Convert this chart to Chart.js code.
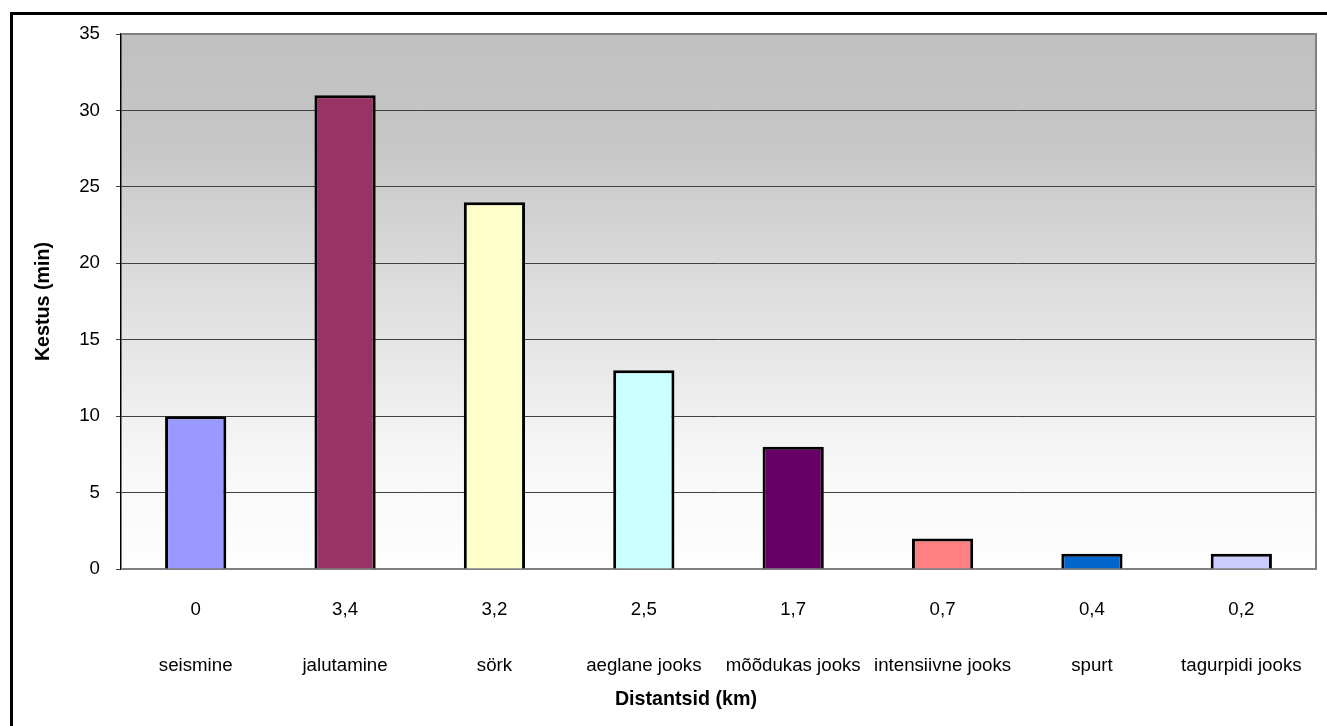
<!DOCTYPE html>
<html>
<head>
<meta charset="utf-8">
<title>Distantsid ja kestus</title>
<script src="https://cdn.jsdelivr.net/npm/chart.js@4/dist/chart.umd.min.js"></script>
<style>
  html, body { margin: 0; padding: 0; background: #ffffff; }
  canvas { display: block; }
</style>
</head>
<body>
<canvas id="chart" width="1327" height="726"></canvas>
<script>
// Harjutuste nimed, läbitud distantsid (km) ja kestused (min)
const activities = ['seismine', 'jalutamine', 'sörk', 'aeglane jooks', 'mõõdukas jooks', 'intensiivne jooks', 'spurt', 'tagurpidi jooks'];
const distances = ['0', '3,4', '3,2', '2,5', '1,7', '0,7', '0,4', '0,2'];
const durations = [10, 31, 24, 13, 8, 2, 1, 1];
const yTicks = [0, 5, 10, 15, 20, 25, 30, 35];

const barColors = ['#9999FF', '#993366', '#FFFFCC', '#CCFFFF', '#660066', '#FF8080', '#0066CC', '#CCCCFF'];

const FONT = "'Liberation Sans', Arial, Helvetica, sans-serif";

// Two-line category labels: distance on top, activity name below
const labels = activities.map((name, i) => [distances[i], '', name]);

// Chart frame, gradient plot background and plot border
const framePlugin = {
  id: 'frame',
  beforeDraw(chart) {
    const { ctx, chartArea: a } = chart;
    ctx.save();
    ctx.fillStyle = '#ffffff';
    ctx.fillRect(0, 0, chart.width, chart.height);
    const g = ctx.createLinearGradient(0, a.top, 0, a.bottom);
    g.addColorStop(0, '#C0C0C0');
    g.addColorStop(0.2, '#C6C6C6');
    g.addColorStop(0.5, '#DFDFDF');
    g.addColorStop(0.8, '#F7F7F7');
    g.addColorStop(1, '#FEFEFE');
    ctx.fillStyle = g;
    ctx.fillRect(a.left, a.top, a.right - a.left, a.bottom - a.top);
    ctx.strokeStyle = '#000000';
    ctx.lineWidth = 3;
    ctx.strokeRect(11.5, 13.5, chart.width + 20, chart.height + 20);
    ctx.restore();
  },
  beforeDatasetsDraw(chart) {
    const { ctx, chartArea: a } = chart;
    ctx.save();
    ctx.strokeStyle = '#808080';
    ctx.lineWidth = 2;
    ctx.beginPath();
    ctx.moveTo(a.left, a.top);
    ctx.lineTo(a.right, a.top);
    ctx.lineTo(a.right, a.bottom);
    ctx.lineTo(a.left, a.bottom);
    ctx.stroke();
    ctx.restore();
  },
  afterDraw(chart) {
    const { ctx } = chart;
    ctx.save();
    ctx.fillStyle = '#000000';
    ctx.font = "bold 19.7px " + FONT;
    ctx.textAlign = 'center';
    ctx.textBaseline = 'middle';
    ctx.fillText('Distantsid (km)', 686, 700);
    ctx.restore();
  }
};

new Chart(document.getElementById('chart'), {
  type: 'bar',
  data: {
    labels: labels,
    datasets: [{
      data: durations,
      backgroundColor: barColors,
      borderColor: '#000000',
      borderWidth: 3,
      categoryPercentage: 1,
      barPercentage: 0.41
    }]
  },
  options: {
    responsive: false,
    animation: false,
    layout: { padding: { left: 0, top: 34, right: 11, bottom: 0 } },
    plugins: {
      legend: { display: false },
      tooltip: { enabled: false },
      title: { display: false }
    },
    scales: {
      x: {
        grid: { display: false },
        border: { display: true, color: '#808080', width: 1 },
        ticks: {
          color: '#000000',
          font: { family: FONT, size: 18.7, lineHeight: 1.5 },
          padding: 19,
          autoSkip: false,
          maxRotation: 0,
          minRotation: 0
        },
        afterFit(scale) { scale.height = 157; }
      },
      y: {
        min: 0,
        max: 35,
        afterBuildTicks(scale) { scale.ticks = yTicks.map(v => ({ value: v })); },
        grid: { color: '#404040', lineWidth: 1, drawTicks: true, tickLength: 5 },
        border: { display: true, color: '#000000', width: 1.5 },
        ticks: {
          color: '#000000',
          font: { family: FONT, size: 18.7 },
          padding: 16
        },
        title: {
          display: true,
          text: 'Kestus (min)',
          color: '#000000',
          font: { family: FONT, size: 19.7, weight: 'bold', lineHeight: 1.2 },
          padding: { top: 32, bottom: 0 }
        },
        afterFit(scale) { scale.width = 121; }
      }
    }
  },
  plugins: [framePlugin]
});
</script>
</body>
</html>
